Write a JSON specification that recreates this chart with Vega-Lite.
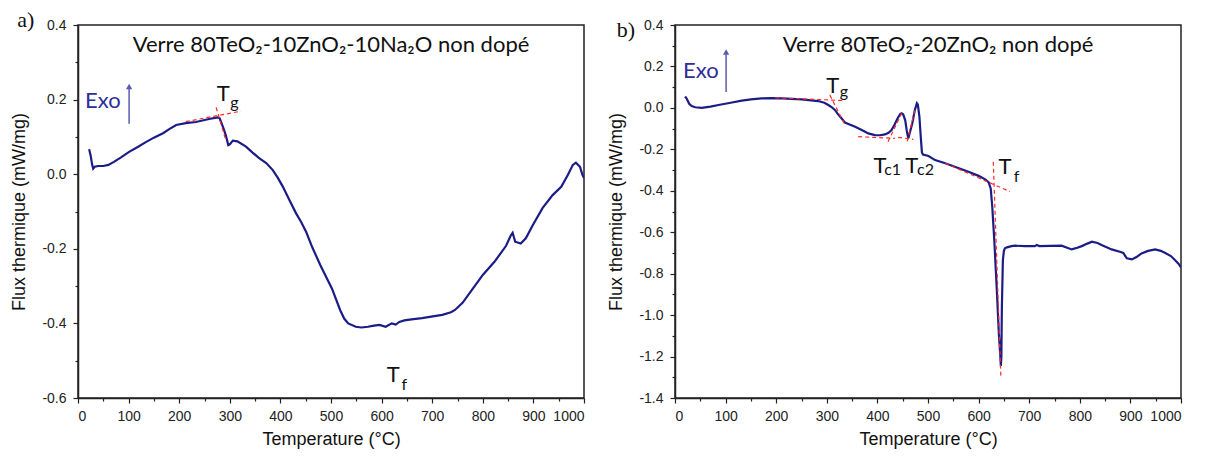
{
  "$schema": "https://vega.github.io/schema/vega-lite/v6.json",
  "padding": {"left": 10, "top": 8, "right": 5, "bottom": 5},
  "background": "white",
  "bounds": "flush",
  "spacing": 91,
  "config": {
    "font": "Liberation Sans",
    "locale": {"number": {"decimal": ".", "thousands": ",", "grouping": [3], "currency": ["$", ""], "minus": "-"}},
    "view": {"stroke": "#222", "strokeWidth": 1.5},
    "axis": {"grid": false, "domainColor": "#222", "domainWidth": 1.5, "tickColor": "#222", "tickWidth": 1.2, "tickSize": 5, "labelFont": "Liberation Sans", "labelFontSize": 14, "labelColor": "#222", "titleFont": "Liberation Sans", "titleFontSize": 18, "titleFontWeight": "normal", "titleColor": "#111"},
    "axisX": {"labelPadding": 6, "titlePadding": 7},
    "axisY": {"labelPadding": 7, "titlePadding": 13}
  },
  "datasets": {
    "curveA": [
      {"T": 22, "v": 0.067}, {"T": 25, "v": 0.05}, {"T": 28, "v": 0.025}, {"T": 30, "v": 0.015}, {"T": 33, "v": 0.02}, {"T": 40, "v": 0.022}, {"T": 50, "v": 0.022}, {"T": 60, "v": 0.025}, {"T": 71, "v": 0.033}, {"T": 85, "v": 0.045}, {"T": 101, "v": 0.06}, {"T": 118, "v": 0.073}, {"T": 134, "v": 0.086}, {"T": 150, "v": 0.098}, {"T": 168, "v": 0.11}, {"T": 182, "v": 0.122}, {"T": 194, "v": 0.132}, {"T": 213, "v": 0.137}, {"T": 233, "v": 0.14}, {"T": 259, "v": 0.148}, {"T": 276, "v": 0.152}, {"T": 280, "v": 0.15}, {"T": 287, "v": 0.125}, {"T": 292, "v": 0.105}, {"T": 297, "v": 0.078}, {"T": 300, "v": 0.08}, {"T": 306, "v": 0.09}, {"T": 315, "v": 0.088}, {"T": 332, "v": 0.074}, {"T": 345, "v": 0.058}, {"T": 358, "v": 0.043}, {"T": 372, "v": 0.03}, {"T": 385, "v": 0.011}, {"T": 395, "v": -0.01}, {"T": 405, "v": -0.034}, {"T": 418, "v": -0.07}, {"T": 431, "v": -0.105}, {"T": 441, "v": -0.128}, {"T": 451, "v": -0.155}, {"T": 463, "v": -0.196}, {"T": 479, "v": -0.244}, {"T": 502, "v": -0.307}, {"T": 518, "v": -0.364}, {"T": 526, "v": -0.387}, {"T": 534, "v": -0.4}, {"T": 549, "v": -0.409}, {"T": 560, "v": -0.411}, {"T": 573, "v": -0.409}, {"T": 585, "v": -0.406}, {"T": 596, "v": -0.404}, {"T": 608, "v": -0.409}, {"T": 620, "v": -0.4}, {"T": 628, "v": -0.403}, {"T": 635, "v": -0.396}, {"T": 645, "v": -0.392}, {"T": 659, "v": -0.389}, {"T": 680, "v": -0.386}, {"T": 698, "v": -0.382}, {"T": 720, "v": -0.377}, {"T": 737, "v": -0.37}, {"T": 745, "v": -0.364}, {"T": 760, "v": -0.345}, {"T": 776, "v": -0.315}, {"T": 800, "v": -0.27}, {"T": 823, "v": -0.235}, {"T": 846, "v": -0.192}, {"T": 855, "v": -0.165}, {"T": 859, "v": -0.157}, {"T": 864, "v": -0.181}, {"T": 875, "v": -0.186}, {"T": 885, "v": -0.172}, {"T": 899, "v": -0.136}, {"T": 918, "v": -0.091}, {"T": 938, "v": -0.056}, {"T": 955, "v": -0.034}, {"T": 968, "v": -0.002}, {"T": 978, "v": 0.025}, {"T": 984, "v": 0.031}, {"T": 992, "v": 0.02}, {"T": 997, "v": -0.002}, {"T": 1000, "v": -0.01}
    ],
    "curveB": [
      {"T": 20, "v": 0.055}, {"T": 23, "v": 0.045}, {"T": 28, "v": 0.02}, {"T": 33, "v": 0.009}, {"T": 40, "v": 0.003}, {"T": 53, "v": 0.0}, {"T": 70, "v": 0.006}, {"T": 86, "v": 0.014}, {"T": 110, "v": 0.025}, {"T": 132, "v": 0.035}, {"T": 150, "v": 0.041}, {"T": 171, "v": 0.046}, {"T": 190, "v": 0.047}, {"T": 211, "v": 0.046}, {"T": 250, "v": 0.041}, {"T": 283, "v": 0.033}, {"T": 295, "v": 0.025}, {"T": 303, "v": 0.014}, {"T": 310, "v": 0.003}, {"T": 316, "v": -0.01}, {"T": 322, "v": -0.03}, {"T": 329, "v": -0.05}, {"T": 336, "v": -0.071}, {"T": 345, "v": -0.08}, {"T": 356, "v": -0.091}, {"T": 370, "v": -0.108}, {"T": 382, "v": -0.123}, {"T": 395, "v": -0.131}, {"T": 405, "v": -0.132}, {"T": 415, "v": -0.128}, {"T": 422, "v": -0.12}, {"T": 428, "v": -0.107}, {"T": 434, "v": -0.08}, {"T": 440, "v": -0.05}, {"T": 445, "v": -0.03}, {"T": 448, "v": -0.026}, {"T": 451, "v": -0.032}, {"T": 455, "v": -0.06}, {"T": 458, "v": -0.11}, {"T": 461, "v": -0.147}, {"T": 464, "v": -0.12}, {"T": 469, "v": -0.074}, {"T": 474, "v": -0.01}, {"T": 478, "v": 0.022}, {"T": 480, "v": 0.015}, {"T": 483, "v": -0.042}, {"T": 486, "v": -0.15}, {"T": 488, "v": -0.215}, {"T": 490, "v": -0.225}, {"T": 501, "v": -0.232}, {"T": 514, "v": -0.252}, {"T": 534, "v": -0.267}, {"T": 557, "v": -0.288}, {"T": 580, "v": -0.308}, {"T": 600, "v": -0.328}, {"T": 613, "v": -0.345}, {"T": 620, "v": -0.36}, {"T": 624, "v": -0.39}, {"T": 627, "v": -0.477}, {"T": 631, "v": -0.638}, {"T": 636, "v": -0.879}, {"T": 640, "v": -1.088}, {"T": 643, "v": -1.2}, {"T": 644, "v": -1.245}, {"T": 645, "v": -1.2}, {"T": 646, "v": -0.96}, {"T": 648, "v": -0.734}, {"T": 650, "v": -0.69}, {"T": 652, "v": -0.678}, {"T": 656, "v": -0.673}, {"T": 665, "v": -0.667}, {"T": 672, "v": -0.665}, {"T": 692, "v": -0.667}, {"T": 711, "v": -0.667}, {"T": 715, "v": -0.662}, {"T": 720, "v": -0.667}, {"T": 764, "v": -0.665}, {"T": 775, "v": -0.675}, {"T": 784, "v": -0.683}, {"T": 795, "v": -0.675}, {"T": 804, "v": -0.667}, {"T": 815, "v": -0.655}, {"T": 824, "v": -0.646}, {"T": 835, "v": -0.652}, {"T": 843, "v": -0.662}, {"T": 863, "v": -0.683}, {"T": 879, "v": -0.694}, {"T": 886, "v": -0.7}, {"T": 890, "v": -0.715}, {"T": 893, "v": -0.726}, {"T": 903, "v": -0.731}, {"T": 912, "v": -0.72}, {"T": 922, "v": -0.702}, {"T": 935, "v": -0.69}, {"T": 949, "v": -0.683}, {"T": 960, "v": -0.69}, {"T": 968, "v": -0.699}, {"T": 980, "v": -0.715}, {"T": 988, "v": -0.734}, {"T": 995, "v": -0.752}, {"T": 1000, "v": -0.77}
    ],
    "tanA": [
      {"x": 213, "y": 0.141, "x2": 322, "y2": 0.169},
      {"x": 273, "y": 0.179, "x2": 292, "y2": 0.092}
    ],
    "tanB": [
      {"x": 198, "y": 0.049, "x2": 336, "y2": 0.035},
      {"x": 306, "y": 0.062, "x2": 336, "y2": -0.083},
      {"x": 362, "y": -0.139, "x2": 435, "y2": -0.147},
      {"x": 421, "y": -0.163, "x2": 448, "y2": -0.026},
      {"x": 441, "y": -0.142, "x2": 471, "y2": -0.152},
      {"x": 459, "y": -0.162, "x2": 475, "y2": 0.0},
      {"x": 534, "y": -0.267, "x2": 662, "y2": -0.404},
      {"x": 629, "y": -0.26, "x2": 644, "y2": -1.297}
    ],
    "textA": [
      {"x": 287, "y": 0.215, "t": "T", "kind": "main"},
      {"x": 309, "y": 0.19, "t": "g", "kind": "sub"},
      {"x": 623, "y": -0.538, "t": "T", "kind": "main"},
      {"x": 645, "y": -0.565, "t": "f", "kind": "sub"},
      {"x": 500, "y": 0.346, "t": "Verre 80TeO₂-10ZnO₂-10Na₂O non dopé", "kind": "title"},
      {"x": 49, "y": 0.196, "t": "Exo", "kind": "exo"},
      {"x": -103, "y": 0.413, "t": "a)", "kind": "panel"}
    ],
    "textB": [
      {"x": 312, "y": 0.106, "t": "T", "kind": "main"},
      {"x": 334, "y": 0.077, "t": "g", "kind": "sub"},
      {"x": 405, "y": -0.28, "t": "T", "kind": "main"},
      {"x": 430, "y": -0.3, "t": "c1", "kind": "sub"},
      {"x": 468, "y": -0.28, "t": "T", "kind": "main"},
      {"x": 495, "y": -0.3, "t": "c2", "kind": "sub"},
      {"x": 652, "y": -0.285, "t": "T", "kind": "main"},
      {"x": 675, "y": -0.335, "t": "f", "kind": "sub"},
      {"x": 520, "y": 0.303, "t": "Verre 80TeO₂-20ZnO₂ non dopé", "kind": "title"},
      {"x": 51, "y": 0.178, "t": "Exo", "kind": "exo"},
      {"x": -97, "y": 0.376, "t": "b)", "kind": "panel"}
    ],
    "arrowA": [{"x": 101, "y": 0.135, "y2": 0.235}],
    "arrowB": [{"x": 101, "y": 0.077, "y2": 0.27}]
  },
  "hconcat": [
    {
      "width": 506,
      "height": 373,
      "resolve": {"axis": {"x": "independent", "y": "independent"}},
      "layer": [
        {
          "data": {"name": "curveA"},
          "mark": {"type": "line", "color": "#1b1c86", "strokeWidth": 2.2, "clip": true},
          "encoding": {
            "x": {"field": "T", "type": "quantitative", "scale": {"domain": [0, 1000], "nice": false}, "axis": {"values": [0, 100, 200, 300, 400, 500, 600, 700, 800, 900, 1000], "format": "d", "title": "Temperature (°C)"}},
            "y": {"field": "v", "type": "quantitative", "scale": {"domain": [-0.6, 0.4], "nice": false, "zero": false}, "axis": {"values": [-0.6, -0.4, -0.2, 0, 0.2, 0.4], "format": ".1f", "title": "Flux thermique (mW/mg)"}}
          }
        },
        {
          "data": {"name": "tanA"},
          "mark": {"type": "rule", "color": "#ff2a2a", "strokeWidth": 1.2, "strokeDash": [4, 3]},
          "encoding": {
            "x": {"field": "x", "type": "quantitative", "axis": {"orient": "bottom", "values": [50, 150, 250, 350, 450, 550, 650, 750, 850, 950], "labels": false, "title": null, "tickSize": 3, "domain": false}},
            "y": {"field": "y", "type": "quantitative", "axis": {"orient": "left", "values": [-0.5, -0.3, -0.1, 0.1, 0.3], "labels": false, "title": null, "tickSize": 3, "domain": false}},
            "x2": {"field": "x2"},
            "y2": {"field": "y2"}
          }
        },
        {
          "data": {"name": "arrowA"},
          "mark": {"type": "rule", "color": "#5b5bb0", "strokeWidth": 1.5},
          "encoding": {
            "x": {"field": "x", "type": "quantitative", "axis": null},
            "y": {"field": "y", "type": "quantitative", "axis": null},
            "y2": {"field": "y2"}
          }
        },
        {
          "data": {"name": "arrowA"},
          "mark": {"type": "point", "shape": "triangle-up", "filled": true, "color": "#5b5bb0", "size": 40, "opacity": 1},
          "encoding": {
            "x": {"field": "x", "type": "quantitative", "axis": null},
            "y": {"field": "y2", "type": "quantitative", "axis": null}
          }
        },
        {
          "data": {"name": "textA"},
          "transform": [{"filter": "datum.kind === 'main'"}],
          "mark": {"type": "text", "font": "Lato", "fontSize": 22, "color": "#111", "baseline": "middle", "align": "center"},
          "encoding": {"x": {"field": "x", "type": "quantitative", "axis": null}, "y": {"field": "y", "type": "quantitative", "axis": null}, "text": {"field": "t"}}
        },
        {
          "data": {"name": "textA"},
          "transform": [{"filter": "datum.kind === 'sub'"}],
          "mark": {"type": "text", "font": "Lato", "fontSize": 16, "color": "#111", "baseline": "middle", "align": "center"},
          "encoding": {"x": {"field": "x", "type": "quantitative", "axis": null}, "y": {"field": "y", "type": "quantitative", "axis": null}, "text": {"field": "t"}}
        },
        {
          "data": {"name": "textA"},
          "transform": [{"filter": "datum.kind === 'title'"}],
          "mark": {"type": "text", "font": "Lato", "fontSize": 22, "color": "#111", "baseline": "middle", "align": "center"},
          "encoding": {"x": {"field": "x", "type": "quantitative", "axis": null}, "y": {"field": "y", "type": "quantitative", "axis": null}, "text": {"field": "t"}}
        },
        {
          "data": {"name": "textA"},
          "transform": [{"filter": "datum.kind === 'exo'"}],
          "mark": {"type": "text", "font": "Lato", "fontSize": 22, "color": "#2e2e99", "baseline": "middle", "align": "center"},
          "encoding": {"x": {"field": "x", "type": "quantitative", "axis": null}, "y": {"field": "y", "type": "quantitative", "axis": null}, "text": {"field": "t"}}
        },
        {
          "data": {"name": "textA"},
          "transform": [{"filter": "datum.kind === 'panel'"}],
          "mark": {"type": "text", "font": "Liberation Serif", "fontSize": 22, "color": "#111", "baseline": "middle", "align": "center"},
          "encoding": {"x": {"field": "x", "type": "quantitative", "axis": null}, "y": {"field": "y", "type": "quantitative", "axis": null}, "text": {"field": "t"}}
        }
      ]
    },
    {
      "width": 506,
      "height": 373,
      "resolve": {"axis": {"x": "independent", "y": "independent"}},
      "layer": [
        {
          "data": {"name": "curveB"},
          "mark": {"type": "line", "color": "#1b1c86", "strokeWidth": 2.2, "clip": true},
          "encoding": {
            "x": {"field": "T", "type": "quantitative", "scale": {"domain": [0, 1000], "nice": false}, "axis": {"values": [0, 100, 200, 300, 400, 500, 600, 700, 800, 900, 1000], "format": "d", "title": "Temperature (°C)"}},
            "y": {"field": "v", "type": "quantitative", "scale": {"domain": [-1.4, 0.4], "nice": false, "zero": false}, "axis": {"values": [-1.4, -1.2, -1.0, -0.8, -0.6, -0.4, -0.2, 0, 0.2, 0.4], "format": ".1f", "title": "Flux thermique (mW/mg)"}}
          }
        },
        {
          "data": {"name": "tanB"},
          "mark": {"type": "rule", "color": "#ff2a2a", "strokeWidth": 1.2, "strokeDash": [4, 3]},
          "encoding": {
            "x": {"field": "x", "type": "quantitative", "axis": {"orient": "bottom", "values": [50, 150, 250, 350, 450, 550, 650, 750, 850, 950], "labels": false, "title": null, "tickSize": 3, "domain": false}},
            "y": {"field": "y", "type": "quantitative", "axis": {"orient": "left", "values": [-1.3, -1.1, -0.9, -0.7, -0.5, -0.3, -0.1, 0.1, 0.3], "labels": false, "title": null, "tickSize": 3, "domain": false}},
            "x2": {"field": "x2"},
            "y2": {"field": "y2"}
          }
        },
        {
          "data": {"name": "arrowB"},
          "mark": {"type": "rule", "color": "#5b5bb0", "strokeWidth": 1.5},
          "encoding": {
            "x": {"field": "x", "type": "quantitative", "axis": null},
            "y": {"field": "y", "type": "quantitative", "axis": null},
            "y2": {"field": "y2"}
          }
        },
        {
          "data": {"name": "arrowB"},
          "mark": {"type": "point", "shape": "triangle-up", "filled": true, "color": "#5b5bb0", "size": 40, "opacity": 1},
          "encoding": {
            "x": {"field": "x", "type": "quantitative", "axis": null},
            "y": {"field": "y2", "type": "quantitative", "axis": null}
          }
        },
        {
          "data": {"name": "textB"},
          "transform": [{"filter": "datum.kind === 'main'"}],
          "mark": {"type": "text", "font": "Lato", "fontSize": 22, "color": "#111", "baseline": "middle", "align": "center"},
          "encoding": {"x": {"field": "x", "type": "quantitative", "axis": null}, "y": {"field": "y", "type": "quantitative", "axis": null}, "text": {"field": "t"}}
        },
        {
          "data": {"name": "textB"},
          "transform": [{"filter": "datum.kind === 'sub'"}],
          "mark": {"type": "text", "font": "Lato", "fontSize": 16, "color": "#111", "baseline": "middle", "align": "center"},
          "encoding": {"x": {"field": "x", "type": "quantitative", "axis": null}, "y": {"field": "y", "type": "quantitative", "axis": null}, "text": {"field": "t"}}
        },
        {
          "data": {"name": "textB"},
          "transform": [{"filter": "datum.kind === 'title'"}],
          "mark": {"type": "text", "font": "Lato", "fontSize": 22, "color": "#111", "baseline": "middle", "align": "center"},
          "encoding": {"x": {"field": "x", "type": "quantitative", "axis": null}, "y": {"field": "y", "type": "quantitative", "axis": null}, "text": {"field": "t"}}
        },
        {
          "data": {"name": "textB"},
          "transform": [{"filter": "datum.kind === 'exo'"}],
          "mark": {"type": "text", "font": "Lato", "fontSize": 22, "color": "#2e2e99", "baseline": "middle", "align": "center"},
          "encoding": {"x": {"field": "x", "type": "quantitative", "axis": null}, "y": {"field": "y", "type": "quantitative", "axis": null}, "text": {"field": "t"}}
        },
        {
          "data": {"name": "textB"},
          "transform": [{"filter": "datum.kind === 'panel'"}],
          "mark": {"type": "text", "font": "Liberation Serif", "fontSize": 22, "color": "#111", "baseline": "middle", "align": "center"},
          "encoding": {"x": {"field": "x", "type": "quantitative", "axis": null}, "y": {"field": "y", "type": "quantitative", "axis": null}, "text": {"field": "t"}}
        }
      ]
    }
  ]
}
